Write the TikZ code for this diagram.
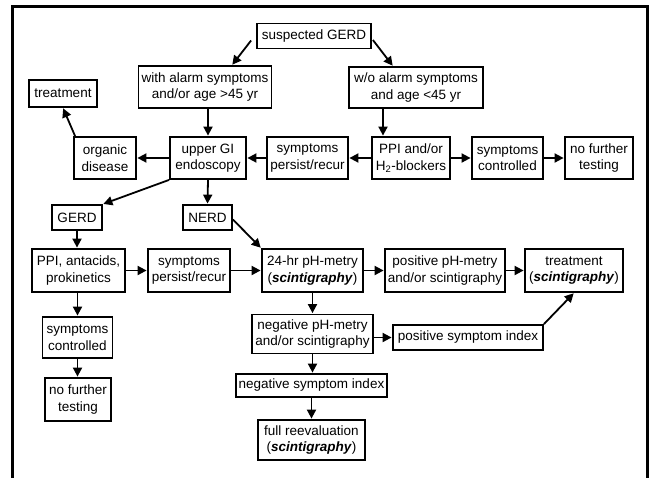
\documentclass[tikz,border=0pt]{standalone}
\usepackage{fontspec}
\setmainfont{Liberation Sans}
\usetikzlibrary{arrows.meta,calc}
\begin{document}
\begin{tikzpicture}[x=1pt,y=-1pt,
  box/.style={draw, line width=1.8pt, align=center, inner sep=1pt, font=\fontsize{13.5}{16.5}\selectfont},
  arr/.style={line width=1.8pt, -{Triangle[length=9pt,width=9pt]}, shorten >=0.5pt}]
\useasboundingbox (0,0) rectangle (653,477);
\draw[line width=3pt] (12.5,478) -- (12.5,6) -- (647,6) -- (647,478);

\node[box,minimum width=114pt,minimum height=25pt] (sgerd) at (314,36) {suspected GERD};
\node[box,minimum width=133pt,minimum height=42pt] (alarm) at (205,87) {with alarm symptoms\\and/or age >45 yr};
\node[box,minimum width=134pt,minimum height=41pt] (woalarm) at (416,87.5) {w/o alarm symptoms\\and age <45 yr};
\node[box,minimum width=68pt,minimum height=27pt] (treat1) at (63,93.5) {treatment};
\node[box,minimum width=62pt,minimum height=42pt] (organic) at (105,158) {organic\\disease};
\node[box,minimum width=76pt,minimum height=42pt] (ugi) at (208,158) {upper GI\\endoscopy};
\node[box,minimum width=81pt,minimum height=42pt] (spr1) at (307.5,158) {symptoms\\persist/recur};
\node[box,minimum width=78pt,minimum height=42pt] (ppi) at (411,158) {PPI and/or\\H\textsubscript{2}-blockers};
\node[box,minimum width=71pt,minimum height=42pt] (sc1) at (507.5,158) {symptoms\\controlled};
\node[box,minimum width=68pt,minimum height=42pt] (nft1) at (599,158) {no further\\testing};
\node[box,minimum width=50pt,minimum height=25pt] (gerd) at (77,217.5) {GERD};
\node[box,minimum width=49pt,minimum height=25pt] (nerd) at (207.5,217.5) {NERD};
\node[box,minimum width=93pt,minimum height=43pt] (ppi2) at (78.5,270.5) {PPI, antacids,\\prokinetics};
\node[box,minimum width=82pt,minimum height=43pt] (spr2) at (189,270.5) {symptoms\\persist/recur};
\node[box,minimum width=101pt,minimum height=43pt] (ph24) at (312.5,270.5) {24-hr pH-metry\\(\textbf{\textit{scintigraphy}})};
\node[box,minimum width=120pt,minimum height=43pt] (posph) at (445,270.5) {positive pH-metry\\and/or scintigraphy};
\node[box,minimum width=98pt,minimum height=43pt] (treat2) at (574,270.5) {treatment\\(\textbf{\textit{scintigraphy}})};
\node[box,minimum width=70pt,minimum height=41pt] (sc2) at (77.5,337.5) {symptoms\\controlled};
\node[box,minimum width=66pt,minimum height=43pt] (nft2) at (78,399.5) {no further\\testing};
\node[box,minimum width=121pt,minimum height=39pt] (negph) at (312.5,334) {negative pH-metry\\and/or scintigraphy};
\node[box,minimum width=150pt,minimum height=25pt] (psi) at (468,337.5) {positive symptom index};
\node[box,minimum width=151pt,minimum height=23pt] (nsi) at (311.5,385.5) {negative symptom index};
\node[box,minimum width=107pt,minimum height=40pt] (full) at (311.5,440) {full reevaluation\\(\textbf{\textit{scintigraphy}})};

\coordinate (wa) at ($(woalarm.south)+(-33,0)$);

\draw[arr] ($(sgerd.west)+(-5,4.5)$) -- ($(alarm.north)+(27,0)$);
\draw[arr] ($(sgerd.east)+(1,4)$) -- ($(woalarm.north)+(-23,0)$);
\draw[arr] (alarm.south -| ugi.north) -- (ugi.north);
\draw[arr] (wa) -- (wa |- ppi.north);
\draw[arr] (ugi.west) -- (organic.east);
\draw[arr] (spr1.west) -- (ugi.east);
\draw[arr] (ppi.west) -- (spr1.east);
\draw[arr] (ppi.east) -- (sc1.west);
\draw[arr] (sc1.east) -- (nft1.west);
\draw[arr] ($(organic.north west)+(2,0)$) -- (treat1.south);
\draw[arr] (ugi.south west) -- (gerd.north east);
\draw[arr] (ugi.south) -- (nerd.north);
\draw[arr] ($(nerd.east)+(0,2)$) -- (ph24.north west);
\draw[arr] (gerd.south) -- (gerd.south |- ppi2.north);
\draw[arr] (ppi2.east) -- (spr2.west);
\draw[arr] (spr2.east) -- (ph24.west);
\draw[arr] (ph24.east) -- (posph.west);
\draw[arr] (posph.east) -- (treat2.west);
\draw[arr] (ph24.south) -- (negph.north);
\draw[arr] (ppi2.south -| sc2.north) -- (sc2.north);
\draw[arr] (sc2.south) -- (sc2.south |- nft2.north);
\draw[arr] (negph.east |- psi.west) -- (psi.west);
\draw[arr] (negph.south) -- (negph.south |- nsi.north);
\draw[arr] (nsi.south -| full.north) -- (full.north);
\draw[arr] (psi.north east) -- (treat2.south);
\end{tikzpicture}
\end{document}
